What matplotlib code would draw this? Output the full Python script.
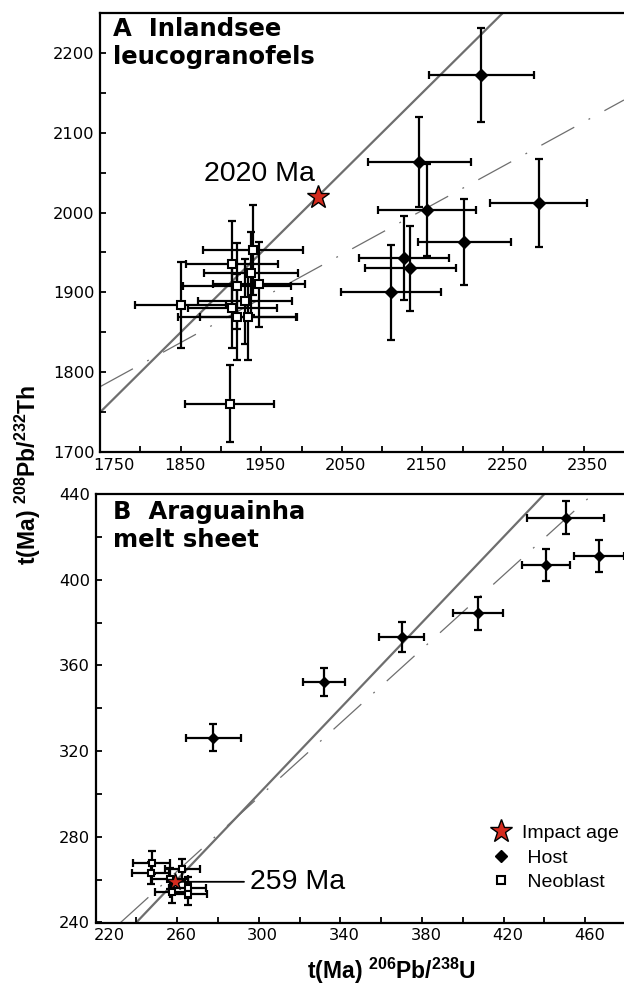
import numpy as np
import matplotlib
matplotlib.use('Agg')
import matplotlib.pyplot as plt
from matplotlib.lines import Line2D
from matplotlib.transforms import ScaledTranslation

plt.rcParams['font.family'] = 'DejaVu Sans'
plt.rcParams['mathtext.fontset'] = 'custom'
plt.rcParams['mathtext.rm'] = 'Liberation Sans'
plt.rcParams['mathtext.bf'] = 'Liberation Sans:bold'

# panel A - Inlandsee leucogranofels (ages in Ma)
a_host_u = [2223, 2146, 2156, 2294, 2202, 2127, 2135, 2111]
a_host_u_err = [65, 64, 61, 60, 58, 56, 56, 62]
a_host_th = [2172, 2063, 2003, 2012, 1963, 1943, 1930, 1900]
a_host_th_err = [59, 56, 58, 55, 54, 53, 53, 59]

a_neo_u = [1850, 1911, 1914, 1940, 1937, 1920, 1947, 1930, 1914, 1920, 1934]
a_neo_u_err = [56, 55, 57, 62, 58, 67, 57, 58, 55, 73, 60]
a_neo_th = [1884, 1761, 1936, 1953, 1924, 1908, 1910, 1889, 1881, 1869, 1869]
a_neo_th_err = [54, 48, 54, 56, 52, 54, 53, 53, 51, 54, 54]

a_impact = 2020
a_fit = (1750, 1782, 0.552)   # x0, y0, slope of dashed line

# panel B - Araguainha melt sheet
b_host_u = [450.4, 440.8, 466.7, 407.5, 370.0, 332.1, 277.8]
b_host_u_err = [18.8, 11.7, 12.2, 12.1, 10.9, 10.2, 13.6]
b_host_th = [429.0, 406.9, 411.0, 384.3, 373.1, 352.1, 326.3]
b_host_th_err = [7.9, 7.6, 7.5, 7.8, 7.0, 6.6, 6.2]

b_neo_u = [247.5, 247.1, 262.6, 257.7, 265.1, 265.4, 256.5]
b_neo_u_err = [9, 9, 8.4, 8.5, 9, 9, 9]
b_neo_th = [267.9, 263.2, 264.8, 254.1, 256.3, 253.3, 260.5]
b_neo_th_err = [5.4, 5, 5, 5, 5, 5, 5]

b_impact = 259
b_fit = (232.3, 240, 0.864)

red = '#d52b1e'
gray = '#6e6e6e'

fig = plt.figure(figsize=(6.24, 9.86), dpi=100)
ax_a = fig.add_axes([100 / 624, 1 - 452.3 / 986, 524 / 624, 439.6 / 986])
ax_b = fig.add_axes([95.5 / 624, 1 - 922.5 / 986, 528.5 / 624, 428.5 / 986])


def draw_panel(ax, hu, hue, ht, hte, nu, nue, nt, nte, fit, sq_ms, d_ms):
    # concordia 1:1 and dashed regression
    ax.axline((0, 0), slope=1, color=gray, lw=1.6, zorder=1)
    ax.axline((fit[0], fit[1]), slope=fit[2], color=gray, lw=0.9,
              ls=(0, (30, 13, 1.5, 13)), zorder=1)
    kw = dict(fmt='none', ecolor='k', elinewidth=1.6, capsize=2.6, capthick=1.6, zorder=2)
    ax.errorbar(hu, ht, xerr=hue, yerr=hte, **kw)
    ax.errorbar(nu, nt, xerr=nue, yerr=nte, **kw)
    ax.plot(hu, ht, ls='none', marker='D', ms=d_ms, color='k', zorder=3)
    ax.plot(nu, nt, ls='none', marker='s', ms=sq_ms, mfc='white', mec='k', mew=1.5, zorder=3)
    for s in ['left', 'bottom', 'top']:
        ax.spines[s].set_linewidth(1.6)
    ax.spines['right'].set_visible(False)
    ax.tick_params(which='both', direction='in', length=4, width=1.3, labelsize=11.7,
                   pad=4, top=False, right=False)


draw_panel(ax_a, a_host_u, a_host_u_err, a_host_th, a_host_th_err,
           a_neo_u, a_neo_u_err, a_neo_th, a_neo_th_err, a_fit, 5.2, 5.8)
draw_panel(ax_b, b_host_u, b_host_u_err, b_host_th, b_host_th_err,
           b_neo_u, b_neo_u_err, b_neo_th, b_neo_th_err, b_fit, 4.2, 5.2)

ax_a.plot(a_impact, a_impact, marker='*', ms=17, mfc=red, mec='k', mew=1, zorder=5)
ax_b.plot(b_impact, b_impact, marker='*', ms=13, mfc=red, mec='k', mew=1, zorder=5)

ax_a.set_xlim(1750, 2400)
ax_a.set_ylim(1700, 2250)
ax_a.set_xticks(np.arange(1750, 2400, 100))
ax_a.set_xticks(np.arange(1800, 2400, 100), minor=True)
ax_a.set_yticks(np.arange(1700, 2201, 100))
ax_a.set_yticks(np.arange(1750, 2200, 100), minor=True)

ax_b.set_xlim(220, 479)
ax_b.set_ylim(240, 440)
ax_b.set_xticks(np.arange(220, 461, 40))
ax_b.set_xticks(np.arange(240, 479, 40), minor=True)
ax_b.set_yticks(np.arange(240, 441, 40))
ax_b.set_yticks(np.arange(260, 440, 40), minor=True)

# x tick labels sit a little right of their ticks in the original
for ax in (ax_a, ax_b):
    labs = ax.get_xticklabels()
    for i, lab in enumerate(labs):
        dx = 14 if i == 0 else 4
        lab.set_transform(lab.get_transform() + ScaledTranslation(dx / 100, 0, fig.dpi_scale_trans))

ax_a.text(0.024, 0.99, 'A  Inlandsee\nleucogranofels', transform=ax_a.transAxes,
          fontsize=17.5, fontweight='bold', va='top', ha='left', linespacing=1.2)
ax_b.text(0.033, 0.985, 'B  Araguainha\nmelt sheet', transform=ax_b.transAxes,
          fontsize=17.5, fontweight='bold', va='top', ha='left', linespacing=1.2)

ax_a.text(2016, 2040, f'{a_impact} Ma', family='Liberation Sans', fontsize=20.5,
          ha='right', va='baseline')
ax_b.annotate(f'{b_impact} Ma', xy=(b_impact, b_impact), xytext=(295.5, b_impact),
              family='Liberation Sans', fontsize=20.5, ha='left', va='center',
              arrowprops=dict(arrowstyle='-', color='k', lw=1.3, shrinkA=2, shrinkB=0),
              zorder=4)

handles = [
    Line2D([], [], ls='none', marker='*', ms=17, mfc=red, mec='k', mew=1, label='Impact age'),
    Line2D([], [], ls='none', marker='D', ms=6.5, color='k', label=' Host'),
    Line2D([], [], ls='none', marker='s', ms=6, mfc='white', mec='k', mew=1.5, label=' Neoblast'),
]
ax_b.legend(handles=handles, loc='center left', bbox_to_anchor=(0.745, 0.151),
            frameon=False, prop={'family': 'Liberation Sans', 'size': 14},
            handlelength=1.2, handletextpad=0.5, labelspacing=0.36, borderpad=0,
            borderaxespad=0)

fig.text(0.045, 0.518, r't(Ma) $^{\mathbf{208}}$Pb/$^{\mathbf{232}}$Th', rotation=90,
         family='Liberation Sans', fontsize=16.5, fontweight='bold', ha='center', va='center')
fig.text(391 / 624, 0.015, r't(Ma) $^{\mathbf{206}}$Pb/$^{\mathbf{238}}$U',
         family='Liberation Sans', fontsize=16.5, fontweight='bold', ha='center', va='center')

fig.savefig('out.png', dpi=100)
